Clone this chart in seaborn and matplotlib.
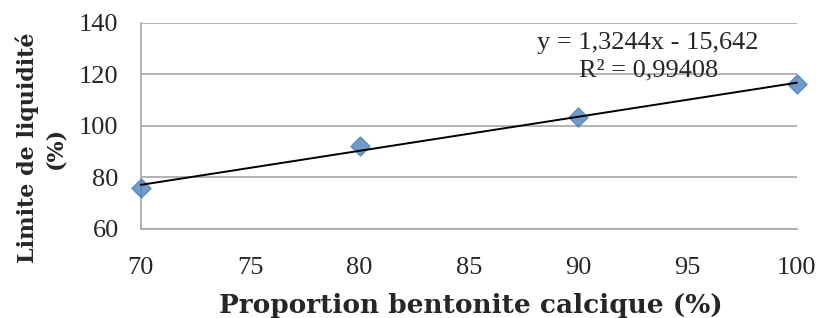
import matplotlib
matplotlib.use("Agg")
import matplotlib.pyplot as plt
import seaborn as sns
import pandas as pd

proportion = [70, 80, 90, 100]
limite = [75.8, 92.3, 103.6, 116.1]
equation = "y = 1,3244x - 15,642\nR² = 0,99408"

df = pd.DataFrame({"proportion": proportion, "limite": limite})

sns.set_style("white")
plt.rcParams["font.family"] = ["Liberation Serif", "DejaVu Serif"]

fig, ax = plt.subplots(figsize=(8.19, 3.18), dpi=100)
fig.subplots_adjust(left=0.172, right=0.973, top=0.928, bottom=0.28)

sns.regplot(x="proportion", y="limite", data=df, ci=None, ax=ax,
            marker="D",
            scatter_kws={"s": 95, "color": "#4F81BD", "edgecolor": "#4F81BD",
                         "zorder": 3, "clip_on": False},
            line_kws={"color": "black", "lw": 1.4, "zorder": 4, "clip_on": False})

ax.set_xlim(70, 100)
ax.set_ylim(60, 140)
ax.set_xticks([70, 75, 80, 85, 90, 95, 100])
ax.set_yticks([60, 80, 100, 120, 140])
ax.yaxis.grid(True, color="#a6a6a6", lw=1.2)
ax.set_axisbelow(True)
for s in ["top", "right"]:
    ax.spines[s].set_visible(False)
for s in ["left", "bottom"]:
    ax.spines[s].set_color("#a6a6a6")
    ax.spines[s].set_linewidth(1.2)
ax.tick_params(axis="both", length=0, labelsize=19)
ax.tick_params(axis="y", pad=16)
ax.tick_params(axis="x", pad=20)

ax.text(93.2, 126.8, equation, ha="center", va="center", fontsize=19, linespacing=1.3)

ax.set_xlabel("")
ax.set_ylabel("")
fig.text(471 / 819, 1 - 305 / 318, "Proportion bentonite calcique (%)",
         ha="center", va="center", fontsize=19, fontweight="bold", family="DejaVu Serif")
fig.text(41 / 819, 1 - 148 / 318, "Limite de liquidité\n(%)", rotation=90,
         ha="center", va="center", fontsize=16, fontweight="bold", family="DejaVu Serif",
         linespacing=1.3, multialignment="center")

fig.savefig("out.png", dpi=100)
